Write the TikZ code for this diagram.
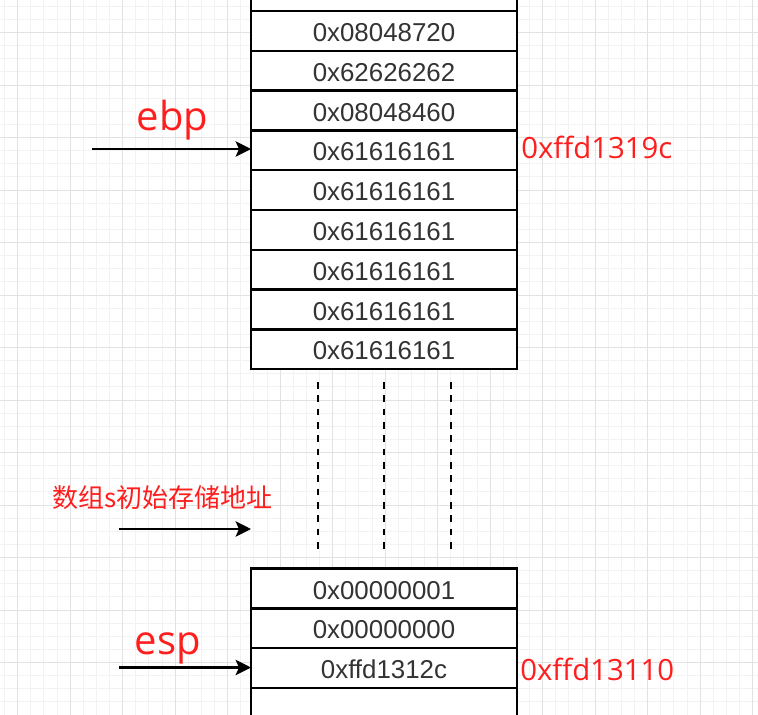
\documentclass[tikz,border=0pt]{standalone}
\usepackage{fontspec}
\setmainfont{Liberation Sans}
\newfontfamily\lblfont{Open Sans}
\newfontfamily\cjk{Noto Sans CJK SC}
\usetikzlibrary{arrows.meta}
\definecolor{gridminor}{RGB}{242,242,242}
\definecolor{gridmajor}{RGB}{226,226,226}
\definecolor{labelred}{RGB}{255,30,30}
\definecolor{celltext}{RGB}{51,51,51}
\begin{document}
\begin{tikzpicture}[x=0.75pt,y=-0.75pt,
  cell/.style={draw=black, line width=1.9pt, fill=white, minimum width=199.5pt,
    minimum height=29.85pt, inner sep=0pt, outer sep=0pt, text height=15.9pt,
    text depth=0pt, font=\fontsize{19.4pt}{23pt}\selectfont, text=celltext},
  ptr/.style={draw=black, line width=1.9pt, -{Stealth[length=11.5pt,width=11.5pt,inset=2.5pt]}},
  regname/.style={text=labelred, inner sep=0pt, font=\lblfont\fontsize{30pt}{36pt}\selectfont},
  addrlbl/.style={text=labelred, inner sep=0pt, font=\lblfont\fontsize{22pt}{26pt}\selectfont},
  cjklbl/.style={text=labelred, inner sep=0pt, font=\cjk\fontsize{19.5pt}{24pt}\selectfont},
  gap/.style={draw=black, line width=2pt, dash pattern=on 5pt off 5pt},
  minorline/.style={draw=gridminor, line width=0.75pt},
  majorline/.style={draw=gridmajor, line width=0.75pt}]
\useasboundingbox (0,0) rectangle (758,715);
\clip (0,0) rectangle (758,715);
\fill[white] (0,0) rectangle (758,715);
% grid
\foreach \i in {0,...,57} {\draw[minorline] ({4.575+13.125*\i},0) -- ({4.575+13.125*\i},715);}
\foreach \j in {0,...,54} {\draw[minorline] (0,{6.25+13.125*\j}) -- (758,{6.25+13.125*\j});}
\foreach \i in {0,...,14} {\draw[majorline] ({17.7+52.5*\i},0) -- ({17.7+52.5*\i},715);}
\foreach \j in {0,...,13} {\draw[majorline] (0,{32.5+52.5*\j}) -- (758,{32.5+52.5*\j});}
% upper stack
\node[cell] (u0) at (384,{11-19.9}) {};
\node[cell] (u1) at (384,{11+19.9}) {0x08048720};
\node[cell] (u2) at (384,{11+39.8+19.9}) {0x62626262};
\node[cell] (u3) at (384,{11+2*39.8+19.9}) {0x08048460};
\node[cell] (u4) at (384,{11+3*39.8+19.9}) {0x61616161};
\node[cell] (u5) at (384,{11+4*39.8+19.9}) {0x61616161};
\node[cell] (u6) at (384,{11+5*39.8+19.9}) {0x61616161};
\node[cell] (u7) at (384,{11+6*39.8+19.9}) {0x61616161};
\node[cell] (u8) at (384,{11+7*39.8+19.9}) {0x61616161};
\node[cell] (u9) at (384,{11+8*39.8+19.9}) {0x61616161};
% lower stack
\node[cell] (l1) at (384,{568.5+19.9}) {0x00000001};
\node[cell] (l2) at (384,{568.5+39.8+19.9}) {0x00000000};
\node[cell] (l3) at (384,{568.5+2*39.8+19.9}) {0xffd1312c};
\node[cell] (l4) at (384,{568.5+3*39.8+19.9}) {};
% dashed gap
\coordinate (g1a) at (318,382); \coordinate (g1b) at (318,551);
\coordinate (g2a) at (384,382); \coordinate (g2b) at (384,551);
\coordinate (g3a) at (451,382); \coordinate (g3b) at (451,551);
\draw[gap] (g1a) -- (g1b);
\draw[gap] (g2a) -- (g2b);
\draw[gap] (g3a) -- (g3b);
% labels
\node[regname, anchor=base] (ebp) at (172.5,130.7) {ebp};
\node[regname, anchor=base] (esp) at (168,654) {esp};
\node[addrlbl, anchor=base west] (a1) at (521,158.3) {0xffd1319c};
\node[addrlbl, anchor=base west] (a2) at (520,680.7) {0xffd13110};
\node[cjklbl, anchor=base west] (arr) at (52,507) {数组s初始存储地址};
% pointers
\coordinate (pe) at (92,149);
\coordinate (ps) at (119,667.5);
\coordinate (pa) at (119,529);
\coordinate (pat) at (251,529);
\draw[ptr] (pe) -- (pe -| u4.west);
\draw[ptr] (pa) -- (pat);
\draw[ptr] (ps) -- (ps -| l3.west);
\end{tikzpicture}
\end{document}
